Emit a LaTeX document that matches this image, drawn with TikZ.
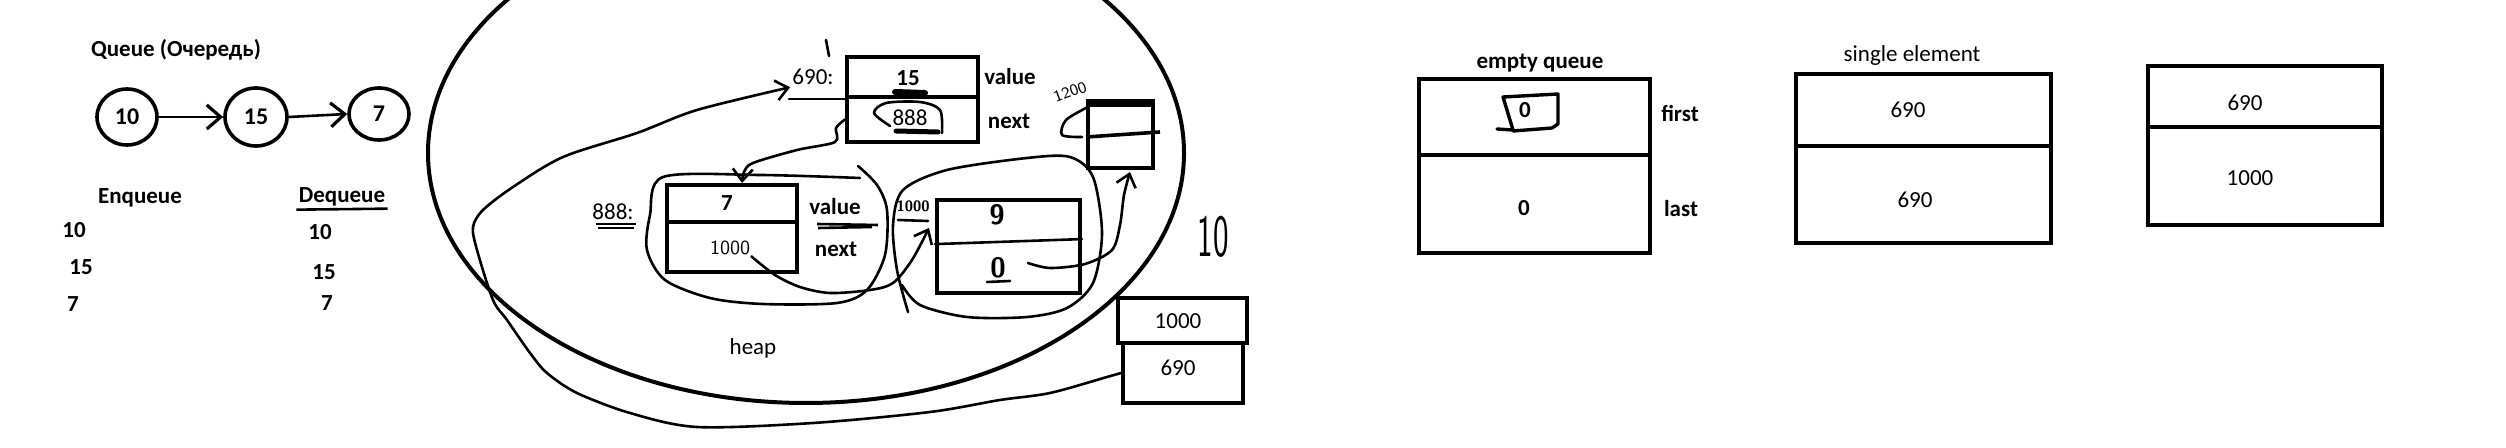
\documentclass[tikz,border=0pt]{standalone}
\usepackage{fontspec}
\setmainfont{Carlito}
\usetikzlibrary{shapes.geometric,arrows.meta,calc}
\begin{document}
\begin{tikzpicture}[x=0.5pt,y=-0.5pt,
  txt/.style={font=\fontsize{11.5}{13}\selectfont, inner sep=1pt},
  btxt/.style={font=\fontsize{11.5}{13}\selectfont\bfseries, inner sep=1pt},
  htxt/.style={font=\sffamily\fontsize{10}{12}\selectfont, inner sep=0.5pt},
  circ/.style={draw, ellipse, line width=1.8pt, inner sep=0pt, font=\fontsize{12}{14}\selectfont\bfseries},
  cell/.style={draw, line width=2pt, inner sep=0pt},
  hand/.style={line width=1.3pt, line cap=round, line join=round},
  barb/.style={-{Straight Barb[length=6pt,width=10pt,line width=1.3pt]}},
  cbarb/.style={-{Straight Barb[length=7pt,width=12pt,line width=1.6pt]}},
]
\useasboundingbox (0,0) rectangle (2506,448);
\clip (0,0) rectangle (2506,448);

% ---------- left: queue sketch ----------
\node[btxt] (title) at (176,50) {Queue (Очередь)};
\node[circ, minimum width=30pt, minimum height=28pt] (c10) at (127,117) {10};
\node[circ, minimum width=31pt, minimum height=29pt] (c15) at (256,117) {15};
\node[circ, minimum width=30pt, minimum height=26pt] (c7) at (379,114) {7};
\draw[line width=1.3pt, cbarb] (c10.east) -- (c15.west);
\draw[line width=1.3pt, cbarb] (c15.east) -- (c7.west);

\node[btxt] (enq) at (140,198) {Enqueue};
\node[btxt] (deq) at (342,197) {Dequeue};
\draw[line width=1.3pt] ([yshift=-0.5pt]deq.south west) -- (deq.south east);
\node[btxt] (e1) at (74,230) {10};
\node[btxt] (e2) at (81,267) {15};
\node[btxt] (e3) at (73,304) {7};
\node[btxt] (d1) at (320,232) {10};
\node[btxt] (d2) at (324,272) {15};
\node[btxt] (d3) at (327,303) {7};

% ---------- heap ----------
\draw[line width=2pt] (806,153) ellipse [x radius=189pt, y radius=125pt];
\node[txt] (heap) at (753,348) {heap};

% node 690
\node[cell, minimum width=65.5pt, minimum height=20pt] (n690v) at (912.5,77) {};
\node[cell, minimum width=65.5pt, minimum height=22.5pt] (n690n) at (912.5,119.5) {};
\node[btxt] (v15) at (908,78) {15};
\node[txt] (v888) at (910,118) {888};
\node[btxt] (val1) at (1010,77) {value};
\node[btxt] (nxt1) at (1009,121) {next};
\node[txt] (lab690) at (813,77) {690:};
\draw[hand] ($(n690v.south west)+(-56,0)$) -- (n690v.south west);
\draw[line width=3pt, line cap=round] (895,92) -- (925,93);
\draw[line width=2.5pt, line cap=round] (896,131) -- (938,132);
\draw[hand] plot[smooth] coordinates {(890,126) (874,113) (886,103) (920,102) (940,110) (942,133)};
\draw[hand] (826,40) -- (829,56);

% node 888
\node[cell, minimum width=65pt, minimum height=18.5pt] (n888v) at (732,203.5) {};
\node[cell, minimum width=65pt, minimum height=25pt] (n888n) at (732,247) {};
\node[btxt] (v7) at (727,203) {7};
\node[htxt] (h1000) at (730,248) {1000};
\node[btxt] (val2) at (835,207) {value};
\node[btxt] (nxt2) at (836,249) {next};
\node[txt] (lab888) at (613,212) {888:};
\draw[line width=1.3pt] (596,224) -- (636,224);
\draw[line width=1.3pt] (598,228) -- (634,228);
\draw[line width=1.3pt] (817,224) -- (878,225);
\draw[line width=1.3pt] (818,228) -- (872,227);
\draw[hand] plot[smooth] coordinates {(860,178) (760,175) (663,177) (650,215) (647,250) (665,280) (710,298) (763,304) (837,303) (867,290) (885,255) (887,210) (877,185) (858,166)};

% node 1000
\node[cell, minimum width=71.5pt, minimum height=46.5pt] (n1000) at (1008.5,246.5) {};
\draw[hand] ([yshift=1.2pt]n1000.west) -- ([yshift=3.7pt]n1000.east);
\node[htxt, font=\sffamily\bfseries\fontsize{14}{16}\selectfont] (t9) at (997,215) {9};
\node[htxt, font=\sffamily\bfseries\fontsize{14}{16}\selectfont] (t0) at (998,268) {0};
\draw[hand] (987,282) -- (1010,281);
\node[htxt, font=\sffamily\bfseries\fontsize{7.5}{9}\selectfont] (lab1000) at (913,206) {1000};
\draw[hand] (898,220) -- (928,221);
\draw[hand] plot[smooth] coordinates {(908,312) (897,270) (893,225) (903,190) (947,170) (1027,158) (1070,157) (1093,177) (1102,233) (1093,283) (1067,308) (1027,317) (967,317) (920,305) (902,285)};

% node 1200
\node[cell, minimum width=32.5pt, minimum height=32.5pt] (n1200) at (1120.5,135.5) {};
\draw[line width=4pt] ([yshift=-1pt]n1200.north west) -- ([yshift=-1pt]n1200.north east);
\draw[line width=1.8pt] ([yshift=-0.75pt]n1200.west) -- ([xshift=2.5pt,yshift=1.75pt]n1200.east);
\node[htxt, rotate=20, font=\sffamily\fontsize{8}{9}\selectfont] (lab1200) at (1070,92) {1200};
\draw[hand] plot[smooth] coordinates {(1088,107) (1066,120) (1062,135) (1082,137)};

% queue object (first / last)
\node[cell, minimum width=64.5pt, minimum height=22.5pt] (q1000) at (1182.5,320.5) {};
\node[cell, minimum width=60pt, minimum height=30pt] (q690) at (1183,373) {};
\node[txt] (tq1000) at (1178,321) {1000};
\node[txt] (tq690) at (1178,368) {690};
\node[font=\sffamily\fontsize{30}{30}\selectfont, xscale=0.55, inner sep=0pt] (h10) at (1213,237) {10};

% hand-drawn connectors
\coordinate (tipC) at (929,228);
\coordinate (startD) at (1028,263);
\coordinate (tipD) at (1130,172);
\draw[hand, barb] plot[smooth] coordinates {(q690.west) (1107,377) (1050,393) (1000,400) (930,412) (813,423) (697,427) (630,413) (577,393) (547,373) (530,353) (507,320) (493,300) (477,250) (473,227) (483,210) (513,187) (563,157) (637,133) (697,110) (lab690.south west)};
\draw[hand, barb] plot[smooth] coordinates {(n690n.west) (836,128) (835,142) (797,150) (753,163) (744,172) ([xshift=5pt]n888v.north)};
\draw[hand, barb] plot[smooth] coordinates {(h1000.south east) (775,275) (800,287) (830,293) (870,290) (893,283) (912,260) (tipC)};
\draw[hand, barb] plot[smooth] coordinates {(startD) (1050,268) (1085,264) (1112,250) (1120,225) (1124,195) (tipD)};

% ---------- empty queue ----------
\node[btxt] (eqt) at (1540,63) {empty queue};
\node[cell, minimum width=115.5pt, minimum height=38pt] (eq1) at (1534.5,117) {};
\node[cell, minimum width=115.5pt, minimum height=49pt] (eq2) at (1534.5,204) {};
\node[btxt] (eq0a) at (1525,110) {0};
\node[btxt] (eq0b) at (1524,208) {0};
\node[btxt] (first) at (1680,114) {first};
\node[btxt] (last) at (1681,209) {last};
\draw[line width=1.7pt, line join=round, line cap=round] (1497,129) -- (1513,130) -- (1503,97) -- (1558,94) -- (1558,124) -- (1552,128) -- (1513,131);

% ---------- single element ----------
\node[txt] (set) at (1912,55) {single element};
\node[cell, minimum width=127.5pt, minimum height=36pt] (se1) at (1923.5,110) {};
\node[cell, minimum width=127.5pt, minimum height=48.5pt] (se2) at (1923.5,194.5) {};
\node[txt] (se690a) at (1908,110) {690};
\node[txt] (se690b) at (1915,200) {690};

% ---------- third box ----------
\node[cell, minimum width=117pt, minimum height=30.5pt] (tb1) at (2265,96.5) {};
\node[cell, minimum width=117pt, minimum height=49pt] (tb2) at (2265,176) {};
\node[txt] (tb690) at (2245,103) {690};
\node[txt] (tb1000) at (2250,178) {1000};
\end{tikzpicture}
\end{document}
